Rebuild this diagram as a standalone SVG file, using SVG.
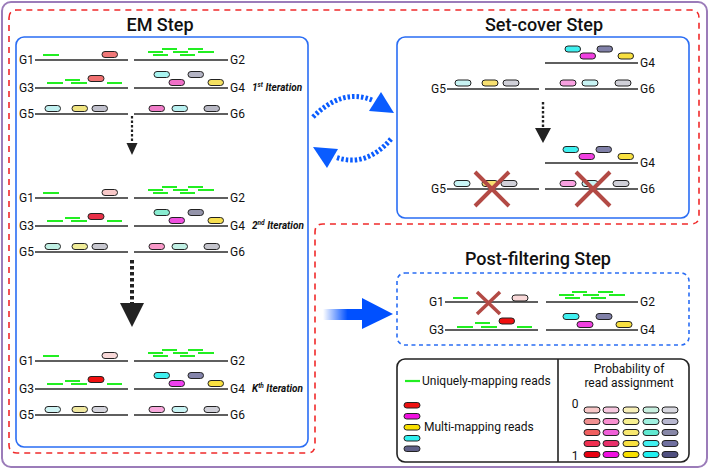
<svg xmlns="http://www.w3.org/2000/svg" width="709" height="469" viewBox="0 0 709 469">
<defs>
<style>
text{font-family:Roboto,"Liberation Sans",sans-serif;fill:#111}
.l{font-size:12px}
.e{text-anchor:end}
.t{font-size:18px;font-weight:500;text-anchor:middle}
.it{font-size:10px;font-weight:700;font-style:italic}
.gl{stroke:#2b2b2b;stroke-width:1.6;fill:none}
.u{stroke:#22ee22;stroke-width:2.2;fill:none}
.p{stroke:#222;stroke-width:1}
.box{fill:none;stroke:#2a6df4;stroke-width:1.6}
.x{stroke:#b34a45;stroke-width:4;stroke-linecap:butt;fill:none}
</style>
<linearGradient id="shaft" x1="0" y1="0" x2="1" y2="0">
<stop offset="0" stop-color="#0050ff" stop-opacity="0"/>
<stop offset="0.6" stop-color="#0050ff" stop-opacity="1"/>
</linearGradient>
</defs>

<rect x="2" y="2" width="705" height="465" rx="9" fill="#fff" stroke="#9b7cb9" stroke-width="2"/>
<path d="M9,18Q9,10 17,10H691Q699,10 699,18V216Q699,224 691,224H323Q315,224 315,232V445Q315,453 307,453H17Q9,453 9,445Z" fill="none" stroke="#f02a2a" stroke-width="1.6" stroke-dasharray="6 5"/>

<g id="em-step">
<text class="t" x="160" y="31">EM Step</text>
<rect class="box" x="16" y="37" width="292" height="410" rx="8"/>

<g id="em-iter-1">
<path class="gl" d="M35,60H128M134,60H228M35,88H128M134,88H228M35,114H128M134,114H228"/>
<text class="l e" x="34" y="64">G1</text><text class="l" x="230" y="64">G2</text>
<text class="l e" x="34" y="92">G3</text><text class="l" x="230" y="92">G4</text>
<text class="l e" x="34" y="118">G5</text><text class="l" x="230" y="118">G6</text>
<path class="u" d="M43,55H59M162,49H177M188,49H203M148,52H163M173,52H188M198,52H214M153,55H168M180,55H195M47,83H63M65,80H80M71,83H87M107,83H122"/>
<rect class="p" x="102" y="51.5" width="15.5" height="6" rx="3" fill="#f07878"/>
<rect class="p" x="88" y="75.5" width="16" height="6" rx="3" fill="#f07070"/>
<rect class="p" x="154" y="71.5" width="15.5" height="6" rx="3" fill="#a8f4f0"/>
<rect class="p" x="188" y="71.5" width="15.5" height="6" rx="3" fill="#b4b4c4"/>
<rect class="p" x="169" y="79.5" width="15.5" height="6" rx="3" fill="#f070c8"/>
<rect class="p" x="208" y="79.5" width="15.5" height="6" rx="3" fill="#f4e060"/>
<rect class="p" x="45" y="105.5" width="15.5" height="6" rx="3" fill="#c0f0f0"/>
<rect class="p" x="72" y="105.5" width="15.5" height="6" rx="3" fill="#f0e480"/>
<rect class="p" x="92" y="105.5" width="15.5" height="6" rx="3" fill="#c0c0cc"/>
<rect class="p" x="149" y="105.5" width="15.5" height="6" rx="3" fill="#f07cc8"/>
<rect class="p" x="172" y="105.5" width="15.5" height="6" rx="3" fill="#b8f0f0"/>
<rect class="p" x="204" y="105.5" width="15.5" height="6" rx="3" fill="#b8b8c4"/>
<text class="it" x="252" y="91">1<tspan font-size="6.5" dy="-4">st</tspan><tspan dy="4"> Iteration</tspan></text>
</g>

<g id="em-iter-2" transform="translate(0,138)">
<path class="gl" d="M35,60H128M134,60H228M35,88H128M134,88H228M35,114H128M134,114H228"/>
<text class="l e" x="34" y="64">G1</text><text class="l" x="230" y="64">G2</text>
<text class="l e" x="34" y="92">G3</text><text class="l" x="230" y="92">G4</text>
<text class="l e" x="34" y="118">G5</text><text class="l" x="230" y="118">G6</text>
<path class="u" d="M43,55H59M162,49H177M188,49H203M148,52H163M173,52H188M198,52H214M153,55H168M180,55H195M47,83H63M65,80H80M71,83H87M107,83H122"/>
<rect class="p" x="102" y="51.5" width="15.5" height="6" rx="3" fill="#f8c8c8"/>
<rect class="p" x="88" y="75.5" width="16" height="6" rx="3" fill="#e83048"/>
<rect class="p" x="154" y="71.5" width="15.5" height="6" rx="3" fill="#88ecd0"/>
<rect class="p" x="188" y="71.5" width="15.5" height="6" rx="3" fill="#9494aa"/>
<rect class="p" x="169" y="79.5" width="15.5" height="6" rx="3" fill="#f050e0"/>
<rect class="p" x="208" y="79.5" width="15.5" height="6" rx="3" fill="#f8e050"/>
<rect class="p" x="45" y="105.5" width="15.5" height="6" rx="3" fill="#c0f0e4"/>
<rect class="p" x="72" y="105.5" width="15.5" height="6" rx="3" fill="#f0ec98"/>
<rect class="p" x="92" y="105.5" width="15.5" height="6" rx="3" fill="#c8c8d0"/>
<rect class="p" x="149" y="105.5" width="15.5" height="6" rx="3" fill="#f898c8"/>
<rect class="p" x="172" y="105.5" width="15.5" height="6" rx="3" fill="#c0f0e4"/>
<rect class="p" x="204" y="105.5" width="15.5" height="6" rx="3" fill="#c4c4cc"/>
<text class="it" x="252" y="91">2<tspan font-size="6.5" dy="-4">nd</tspan><tspan dy="4"> Iteration</tspan></text>
</g>

<g id="em-iter-k" transform="translate(0,301)">
<path class="gl" d="M35,60H128M134,60H228M35,88H128M134,88H228M35,114H128M134,114H228"/>
<text class="l e" x="34" y="64">G1</text><text class="l" x="230" y="64">G2</text>
<text class="l e" x="34" y="92">G3</text><text class="l" x="230" y="92">G4</text>
<text class="l e" x="34" y="118">G5</text><text class="l" x="230" y="118">G6</text>
<path class="u" d="M43,55H59M162,49H177M188,49H203M148,52H163M173,52H188M198,52H214M153,55H168M180,55H195M47,83H63M65,80H80M71,83H87M107,83H122"/>
<rect class="p" x="102" y="51.5" width="15.5" height="6" rx="3" fill="#f8d8d8"/>
<rect class="p" x="88" y="75.5" width="16" height="6" rx="3" fill="#f01010"/>
<rect class="p" x="154" y="71.5" width="15.5" height="6" rx="3" fill="#40f0f0"/>
<rect class="p" x="188" y="71.5" width="15.5" height="6" rx="3" fill="#8484aa"/>
<rect class="p" x="169" y="79.5" width="15.5" height="6" rx="3" fill="#f040f0"/>
<rect class="p" x="208" y="79.5" width="15.5" height="6" rx="3" fill="#f8e040"/>
<rect class="p" x="45" y="105.5" width="15.5" height="6" rx="3" fill="#d0f4f4"/>
<rect class="p" x="72" y="105.5" width="15.5" height="6" rx="3" fill="#f0e8a0"/>
<rect class="p" x="92" y="105.5" width="15.5" height="6" rx="3" fill="#d4d4dc"/>
<rect class="p" x="149" y="105.5" width="15.5" height="6" rx="3" fill="#f8a8dc"/>
<rect class="p" x="172" y="105.5" width="15.5" height="6" rx="3" fill="#c8f4f4"/>
<rect class="p" x="204" y="105.5" width="15.5" height="6" rx="3" fill="#d0d0d8"/>
<text class="it" x="252" y="91">K<tspan font-size="6.5" dy="-4">th</tspan><tspan dy="4"> Iteration</tspan></text>
</g>
</g>

<g id="set-cover-step">
<text class="t" x="544" y="31">Set-cover Step</text>
<rect class="box" x="397" y="37" width="292" height="181" rx="8"/>
<path class="gl" d="M545,63H638M447,89H539M545,89H638M545,163H638M447,189H539M545,189H638"/>
<text class="l" x="640" y="67">G4</text>
<text class="l e" x="446" y="93">G5</text><text class="l" x="640" y="93">G6</text>
<text class="l" x="640" y="167">G4</text>
<text class="l e" x="446" y="193">G5</text><text class="l" x="640" y="193">G6</text>
<rect class="p" x="565" y="46" width="15.5" height="6" rx="3" fill="#40f0f0"/>
<rect class="p" x="580" y="53" width="15.5" height="6" rx="3" fill="#f040e0"/>
<rect class="p" x="597" y="46" width="15.5" height="6" rx="3" fill="#8080a8"/>
<rect class="p" x="618" y="53" width="15.5" height="6" rx="3" fill="#f8e040"/>
<rect class="p" x="455" y="80" width="16" height="6" rx="3" fill="#c8f4f4"/>
<rect class="p" x="482" y="80" width="16" height="6" rx="3" fill="#f8e070"/>
<rect class="p" x="503" y="80" width="16" height="6" rx="3" fill="#d0d0d8"/>
<rect class="p" x="560" y="80" width="16" height="6" rx="3" fill="#f8a0e0"/>
<rect class="p" x="582" y="80" width="16" height="6" rx="3" fill="#c8f4f4"/>
<rect class="p" x="615" y="80" width="16" height="6" rx="3" fill="#d0d0d8"/>
<rect class="p" x="563" y="146.5" width="15.5" height="6" rx="3" fill="#40f0f0"/>
<rect class="p" x="579" y="153.5" width="15.5" height="6" rx="3" fill="#f040e0"/>
<rect class="p" x="596" y="146.5" width="15.5" height="6" rx="3" fill="#8080a8"/>
<rect class="p" x="618" y="153.5" width="15.5" height="6" rx="3" fill="#f8e040"/>
<rect class="p" x="454" y="180.5" width="16" height="6" rx="3" fill="#c8f4f4"/>
<rect class="p" x="482" y="180.5" width="16" height="6" rx="3" fill="#f8e070"/>
<rect class="p" x="501" y="180.5" width="16" height="6" rx="3" fill="#d0d0d8"/>
<rect class="p" x="560" y="180.5" width="16" height="6" rx="3" fill="#f8a0e0"/>
<rect class="p" x="582" y="180.5" width="16" height="6" rx="3" fill="#c8f4f4"/>
<rect class="p" x="613" y="180.5" width="16" height="6" rx="3" fill="#d0d0d8"/>
<path class="x" d="M475,172L509,206M509,172L475,206M576,172L610,206M610,172L576,206"/>
</g>

<g id="post-filtering-step">
<text class="t" x="538" y="265">Post-filtering Step</text>
<rect x="397" y="273" width="292" height="72" rx="8" fill="none" stroke="#2a6df4" stroke-width="1.6" stroke-dasharray="4 3.5"/>
<path class="gl" d="M445,302H538M546,302H638M445,330H538M546,330H638"/>
<text class="l e" x="444" y="306">G1</text><text class="l" x="640" y="306">G2</text>
<text class="l e" x="444" y="334">G3</text><text class="l" x="640" y="334">G4</text>
<path class="u" d="M453,298H468M572,292H587M598,292H613M559,295H574M583,295H599M609,295H625M565,298H580M591,298H606M457,327H473M475,323H490M481,327H497M517,327H532"/>
<rect class="p" x="512" y="295" width="16" height="6" rx="3" fill="#f8d8d8"/>
<rect class="p" x="499" y="318" width="15.5" height="6" rx="3" fill="#f01010"/>
<rect class="p" x="563" y="313.5" width="16" height="6" rx="3" fill="#40f0f0"/>
<rect class="p" x="596" y="313.5" width="16" height="6" rx="3" fill="#8080a8"/>
<rect class="p" x="577" y="321.5" width="16" height="6" rx="3" fill="#f040e0"/>
<rect class="p" x="616" y="321.5" width="16" height="6" rx="3" fill="#f8e040"/>
<path class="x" style="stroke-width:3.5" d="M477,292L500,314M500,292L477,314"/>
</g>

<g id="legend">
<rect x="397" y="359" width="292" height="103" rx="8" fill="none" stroke="#222" stroke-width="1.6"/>
<path d="M558,359V462" stroke="#222" stroke-width="1.6"/>
<path class="u" d="M405,381H420"/>
<text class="l" x="422" y="385">Uniquely-mapping reads</text>
<rect class="p" x="404" y="402.5" width="16" height="5.5" rx="2.75" fill="#ee1111"/>
<rect class="p" x="404" y="413.5" width="16" height="5.5" rx="2.75" fill="#f010e0"/>
<rect class="p" x="404" y="424.5" width="16" height="5.5" rx="2.75" fill="#f8e000"/>
<rect class="p" x="404" y="435.5" width="16" height="5.5" rx="2.75" fill="#30f0f0"/>
<rect class="p" x="404" y="446" width="16" height="5.5" rx="2.75" fill="#606088"/>
<text class="l" x="424" y="431">Multi-mapping reads</text>
<text class="l" x="629" y="373" text-anchor="middle">Probability of</text>
<text class="l" x="629" y="387" text-anchor="middle">read assignment</text>
<text class="l" x="575" y="408" text-anchor="middle">0</text>
<text class="l" x="575" y="460" text-anchor="middle">1</text>
<g id="prob-grid">
<rect class="p" x="584" y="407" width="16" height="6" rx="3" fill="#f8c8c8"/>
<rect class="p" x="603" y="407" width="16" height="6" rx="3" fill="#f8c8e0"/>
<rect class="p" x="623" y="407" width="16" height="6" rx="3" fill="#f8f0b8"/>
<rect class="p" x="643" y="407" width="16" height="6" rx="3" fill="#c8f0e0"/>
<rect class="p" x="662" y="407" width="16" height="6" rx="3" fill="#d8d8e0"/>
<rect class="p" x="584" y="418.5" width="16" height="6" rx="3" fill="#f09090"/>
<rect class="p" x="603" y="418.5" width="16" height="6" rx="3" fill="#f890d0"/>
<rect class="p" x="623" y="418.5" width="16" height="6" rx="3" fill="#f8f090"/>
<rect class="p" x="643" y="418.5" width="16" height="6" rx="3" fill="#a0f0e0"/>
<rect class="p" x="662" y="418.5" width="16" height="6" rx="3" fill="#b8b8d0"/>
<rect class="p" x="584" y="429.5" width="16" height="6" rx="3" fill="#f06060"/>
<rect class="p" x="603" y="429.5" width="16" height="6" rx="3" fill="#f060d8"/>
<rect class="p" x="623" y="429.5" width="16" height="6" rx="3" fill="#f8e870"/>
<rect class="p" x="643" y="429.5" width="16" height="6" rx="3" fill="#60e8d0"/>
<rect class="p" x="662" y="429.5" width="16" height="6" rx="3" fill="#8888a8"/>
<rect class="p" x="584" y="440.5" width="16" height="6" rx="3" fill="#f03050"/>
<rect class="p" x="603" y="440.5" width="16" height="6" rx="3" fill="#e8306a"/>
<rect class="p" x="623" y="440.5" width="16" height="6" rx="3" fill="#f8e040"/>
<rect class="p" x="643" y="440.5" width="16" height="6" rx="3" fill="#40f0f0"/>
<rect class="p" x="662" y="440.5" width="16" height="6" rx="3" fill="#7070a0"/>
<rect class="p" x="584" y="451.5" width="16" height="6" rx="3" fill="#e80010"/>
<rect class="p" x="603" y="451.5" width="16" height="6" rx="3" fill="#f010e0"/>
<rect class="p" x="623" y="451.5" width="16" height="6" rx="3" fill="#f8e000"/>
<rect class="p" x="643" y="451.5" width="16" height="6" rx="3" fill="#20f0f0"/>
<rect class="p" x="662" y="451.5" width="16" height="6" rx="3" fill="#505080"/>
</g>
</g>

<g id="connectors">
<path d="M132,116V143" stroke="#222" stroke-width="2.2" stroke-dasharray="2.5 2" fill="none"/>
<polygon points="126.5,143 137.5,143 132,155" fill="#222"/>
<path d="M132,260V303" stroke="#222" stroke-width="4" stroke-dasharray="3.5 2.5" fill="none"/>
<polygon points="120,303 144,303 132,327" fill="#222"/>
<path d="M543,102V128" stroke="#222" stroke-width="2.4" stroke-dasharray="2.5 2" fill="none"/>
<polygon points="535,128 551,128 543,143" fill="#222"/>
<path d="M313,117Q342,88 372,100" stroke="#0a5cff" stroke-width="5" stroke-dasharray="2.5 2" fill="none"/>
<polygon points="394,113 369,111 381,92" fill="#0a5cff"/>
<path d="M391,139Q366,168 335,157" stroke="#0a5cff" stroke-width="5" stroke-dasharray="2.5 2" fill="none"/>
<polygon points="313,147 338,149 327,168" fill="#0a5cff"/>
<rect x="323" y="309" width="41" height="11" fill="url(#shaft)"/>
<polygon points="362,298 393,314 362,329" fill="#0050ff"/>
</g>
</svg>
